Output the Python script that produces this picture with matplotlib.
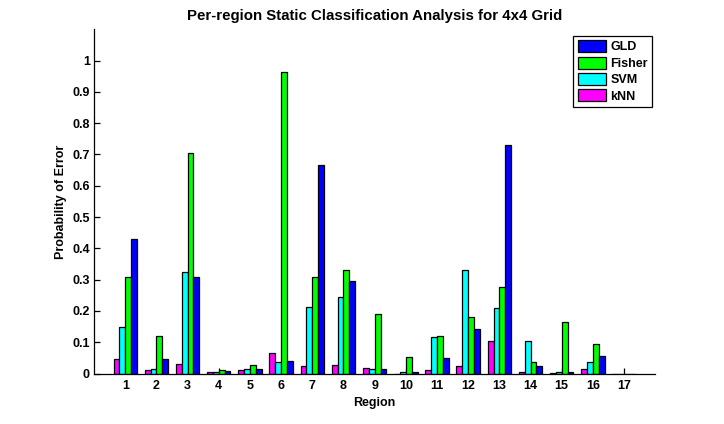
import numpy as np
import matplotlib
matplotlib.use('Agg')
import matplotlib.pyplot as plt

# datos por region (17 regiones, 4x4 grid + 1)
regions = list(range(1, 18))
knn = [0.046, 0.011, 0.031, 0.004, 0.012, 0.066, 0.023, 0.026, 0.017, 0.0,
       0.012, 0.023, 0.104, 0.004, 0.001, 0.014, 0.0]
svm = [0.149, 0.014, 0.324, 0.004, 0.015, 0.036, 0.212, 0.244, 0.014, 0.004,
       0.116, 0.330, 0.209, 0.104, 0.004, 0.036, 0.0]
fisher = [0.308, 0.119, 0.704, 0.011, 0.027, 0.963, 0.308, 0.330, 0.189, 0.052,
          0.119, 0.180, 0.276, 0.036, 0.164, 0.095, 0.0]
gld = [0.429, 0.046, 0.308, 0.008, 0.015, 0.040, 0.666, 0.296, 0.014, 0.004,
       0.049, 0.141, 0.730, 0.023, 0.004, 0.055, 0.0]
series_names = ['kNN', 'SVM', 'Fisher', 'GLD']
colors = ['#ff00ff', '#00ffff', '#00ff00', '#0000ff']

plt.rcParams['font.family'] = ['Liberation Sans', 'DejaVu Sans']
plt.rcParams['font.weight'] = 'bold'
plt.rcParams['font.size'] = 9

fig = plt.figure(figsize=(7.24, 4.24), dpi=100)
ax = fig.add_axes([0.13, 0.119, 0.775, 0.812])

x = np.array(regions)
w = 0.1875
bars = []
for i, vals in enumerate([knn, svm, fisher, gld]):
    b = ax.bar(x + (i - 1.5) * w, vals, w, color=colors[i], edgecolor='black',
               linewidth=0.9, label=series_names[i], zorder=2)
    bars.append(b)

ax.set_xlim(0, 18)
ax.set_ylim(0, 1.1)
ax.set_xticks(regions)
ax.set_xticklabels([str(r) for r in regions])
yt = [round(0.1 * k, 1) for k in range(11)]
ax.set_yticks(yt)
ax.set_yticklabels(['0'] + [str(v) for v in yt[1:-1]] + ['1'])
ax.tick_params(direction='in', length=4, width=0.9)
ax.tick_params(axis='y', pad=3)
ax.tick_params(axis='x', pad=5)
for s in ['top', 'right']:
    ax.spines[s].set_visible(False)
for s in ['left', 'bottom']:
    ax.spines[s].set_linewidth(0.9)

ax.set_title('Per-region Static Classification Analysis for 4x4 Grid',
             fontweight='bold', pad=7)
ax.set_xlabel('Region', fontweight='bold', labelpad=3)
ax.set_ylabel('Probability of Error', fontweight='bold', labelpad=4)

handles = bars[::-1]
leg = ax.legend(handles, series_names[::-1], loc='upper right',
                bbox_to_anchor=(1.0, 0.99), fancybox=False, framealpha=1,
                edgecolor='black', handlelength=2.3, handleheight=1.1,
                borderpad=0.35, labelspacing=0.25, handletextpad=0.3,
                borderaxespad=0.25)
leg.get_frame().set_linewidth(0.9)

plt.savefig('out.png', dpi=100)
plt.close('all')
